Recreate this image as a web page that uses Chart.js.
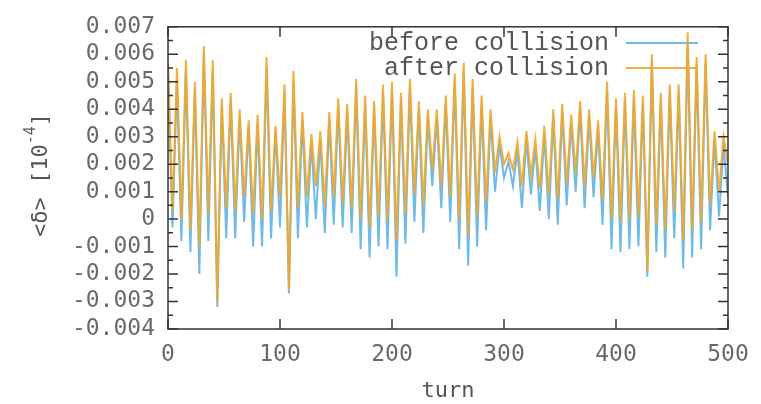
<!DOCTYPE html>
<html>
<head>
<meta charset="utf-8">
<script src="https://cdn.jsdelivr.net/npm/chart.js@4.4.1/dist/chart.umd.min.js"></script>
<style>
  html, body { margin: 0; padding: 0; background: #fff; }
  #chart { display: block; }
</style>
</head>
<body>
<canvas id="chart" width="761" height="404"></canvas>
<script>
// turn numbers (x values)
const turns = [
  0, 4, 8, 12, 16, 20, 24, 28, 32, 36, 40, 44, 48, 52, 56, 60, 64, 68, 72, 76,
  80, 84, 88, 92, 96, 100, 104, 108, 112, 116, 120, 124, 128, 132, 136, 140, 144, 148, 152, 156,
  160, 164, 168, 172, 176, 180, 184, 188, 192, 196, 200, 204, 208, 212, 216, 220, 224, 228, 232, 236,
  240, 244, 248, 252, 256, 260, 264, 268, 272, 276, 280, 284, 288, 292, 296, 300, 304, 308, 312, 316,
  320, 324, 328, 332, 336, 340, 344, 348, 352, 356, 360, 364, 368, 372, 376, 380, 384, 388, 392, 396,
  400, 404, 408, 412, 416, 420, 424, 428, 432, 436, 440, 444, 448, 452, 456, 460, 464, 468, 472, 476,
  480, 484, 488, 492, 496, 500
];

// <delta> after collision
const afterCollision = [
  0.0057, 0.0003, 0.0055, 0.0000, 0.0058, -0.0004, 0.0050, -0.0010, 0.0063, 0.0002,
  0.0058, -0.0030, 0.0044, 0.0004, 0.0046, 0.0003, 0.0040, 0.0008, 0.0036, 0.0002,
  0.0038, 0.0000, 0.0059, 0.0003, 0.0034, 0.0008, 0.0049, -0.0026, 0.0054, 0.0004,
  0.0039, 0.0008, 0.0031, 0.0012, 0.0032, 0.0005, 0.0039, 0.0008, 0.0044, 0.0006,
  0.0042, 0.0004, 0.0051, 0.0000, 0.0045, -0.0003, 0.0043, 0.0001, 0.0049, 0.0000,
  0.0050, -0.0008, 0.0046, 0.0002, 0.0051, 0.0009, 0.0043, 0.0005, 0.0040, 0.0018,
  0.0040, 0.0012, 0.0045, 0.0008, 0.0053, 0.0000, 0.0057, -0.0006, 0.0051, 0.0001,
  0.0045, 0.0006, 0.0040, 0.0017, 0.0030, 0.0020, 0.0024, 0.0018, 0.0028, 0.0012,
  0.0032, 0.0016, 0.0029, 0.0011, 0.0034, 0.0009, 0.0040, 0.0007, 0.0042, 0.0013,
  0.0038, 0.0017, 0.0043, 0.0012, 0.0040, 0.0015, 0.0036, 0.0007, 0.0050, 0.0000,
  0.0044, -0.0001, 0.0046, 0.0000, 0.0047, 0.0001, 0.0045, -0.0019, 0.0060, -0.0002,
  0.0046, -0.0004, 0.0049, 0.0003, 0.0049, -0.0008, 0.0068, -0.0004, 0.0059, -0.0001,
  0.0060, 0.0005, 0.0032, 0.0010, 0.0030, 0.0020
];

// <delta> before collision
const beforeCollision = [
  0.0053, -0.0003, 0.0050, -0.0008, 0.0054, -0.0012, 0.0047, -0.0020, 0.0060, -0.0008,
  0.0054, -0.0032, 0.0041, -0.0007, 0.0043, -0.0007, 0.0037, -0.0001, 0.0034, -0.0010,
  0.0035, -0.0010, 0.0055, -0.0007, 0.0032, -0.0003, 0.0046, -0.0027, 0.0050, -0.0007,
  0.0036, -0.0003, 0.0028, 0.0000, 0.0029, -0.0005, 0.0036, -0.0002, 0.0041, -0.0003,
  0.0039, -0.0005, 0.0048, -0.0011, 0.0042, -0.0014, 0.0040, -0.0010, 0.0046, -0.0011,
  0.0047, -0.0021, 0.0043, -0.0009, 0.0048, -0.0001, 0.0040, -0.0005, 0.0037, 0.0012,
  0.0037, 0.0004, 0.0042, -0.0001, 0.0050, -0.0011, 0.0054, -0.0017, 0.0048, -0.0010,
  0.0042, -0.0004, 0.0037, 0.0010, 0.0027, 0.0015, 0.0021, 0.0012, 0.0025, 0.0004,
  0.0029, 0.0009, 0.0026, 0.0003, 0.0031, 0.0000, 0.0037, -0.0002, 0.0039, 0.0005,
  0.0035, 0.0010, 0.0040, 0.0004, 0.0037, 0.0008, 0.0033, -0.0002, 0.0047, -0.0011,
  0.0041, -0.0012, 0.0043, -0.0011, 0.0044, -0.0010, 0.0042, -0.0021, 0.0057, -0.0012,
  0.0043, -0.0014, 0.0046, -0.0007, 0.0046, -0.0018, 0.0064, -0.0014, 0.0056, -0.0011,
  0.0057, -0.0004, 0.0029, 0.0001, 0.0027, 0.0008
];

const seriesNames = ['before collision', 'after collision'];
const xTicks = [0, 100, 200, 300, 400, 500];
const yMin = -0.004, yMax = 0.007, yStep = 0.001;

const blue = 'rgb(110, 186, 232)';
const orange = 'rgba(240, 168, 45, 0.92)';
const labelFont = 'DejaVu Sans Mono';

// box border with inward ticks (gnuplot look)
const frame = {
  id: 'frame',
  afterDraw(chart) {
    const { ctx, chartArea: a, scales } = chart;
    ctx.save();
    ctx.strokeStyle = '#333';
    ctx.lineWidth = 1.5;
    ctx.strokeRect(a.left, a.top, a.right - a.left, a.bottom - a.top);
    ctx.beginPath();
    xTicks.forEach(v => {
      const x = scales.x.getPixelForValue(v);
      ctx.moveTo(x, a.bottom); ctx.lineTo(x, a.bottom - 10);
      ctx.moveTo(x, a.top); ctx.lineTo(x, a.top + 10);
    });
    scales.y.ticks.forEach(t => {
      const y = scales.y.getPixelForValue(t.value);
      ctx.moveTo(a.left, y); ctx.lineTo(a.left + 10, y);
      ctx.moveTo(a.right, y); ctx.lineTo(a.right - 10, y);
      const ym = scales.y.getPixelForValue(t.value + yStep / 2);
      if (ym > a.top) {
        ctx.moveTo(a.left, ym); ctx.lineTo(a.left + 5, ym);
        ctx.moveTo(a.right, ym); ctx.lineTo(a.right - 5, ym);
      }
    });
    ctx.stroke();

    // y axis label: <δ> [10^-4]
    ctx.translate(41, 175);
    ctx.rotate(-Math.PI / 2);
    ctx.fillStyle = '#555';
    ctx.textBaseline = 'middle';
    ctx.textAlign = 'left';
    const big = '22px "' + labelFont + '"';
    const small = '15px "' + labelFont + '"';
    ctx.font = big;
    const p1 = '<δ> [10';
    const w1 = ctx.measureText(p1).width;
    ctx.font = small;
    const w2 = ctx.measureText('-4').width;
    ctx.font = big;
    const w3 = ctx.measureText(']').width;
    const x0 = -(w1 + w2 + w3) / 2;
    ctx.fillText(p1, x0, 0);
    ctx.font = small;
    ctx.fillText('-4', x0 + w1, -10);
    ctx.font = big;
    ctx.fillText(']', x0 + w1 + w2, 0);
    ctx.restore();
  }
};

// key in the top right, text right aligned with line sample after it
const key = {
  id: 'key',
  beforeDatasetsDraw(chart) {
    const { ctx } = chart;
    const cols = [blue, orange];
    ctx.save();
    ctx.font = '25px "Liberation Mono"';
    ctx.textAlign = 'right';
    ctx.textBaseline = 'middle';
    seriesNames.forEach((name, i) => {
      const y = 43 + i * 25;
      ctx.fillStyle = '#555';
      ctx.fillText(name, 609, y);
      ctx.strokeStyle = cols[i];
      ctx.lineWidth = 2;
      ctx.beginPath();
      ctx.moveTo(626, y);
      ctx.lineTo(698, y);
      ctx.stroke();
    });
    ctx.restore();
  }
};

new Chart(document.getElementById('chart'), {
  type: 'line',
  data: {
    datasets: [
      {
        label: seriesNames[1],
        data: turns.map((t, i) => ({ x: t, y: afterCollision[i] })),
        borderColor: orange,
        borderWidth: 2,
        pointRadius: 0,
        tension: 0
      },
      {
        label: seriesNames[0],
        data: turns.map((t, i) => ({ x: t, y: beforeCollision[i] })),
        borderColor: blue,
        borderWidth: 2,
        pointRadius: 0,
        tension: 0
      }
    ]
  },
  options: {
    responsive: false,
    animation: false,
    devicePixelRatio: 1,
    layout: { padding: { top: 17, right: 33, left: 0, bottom: 0 } },
    plugins: {
      legend: { display: false },
      tooltip: { enabled: false }
    },
    scales: {
      x: {
        type: 'linear',
        min: 0,
        max: 500,
        grid: { display: false, drawTicks: false },
        border: { display: false },
        afterFit: s => { s.height = 75; },
        afterBuildTicks: s => { s.ticks = xTicks.map(v => ({ value: v })); },
        ticks: {
          padding: 12,
          maxRotation: 0,
          autoSkip: false,
          color: '#6a6a6a',
          font: { family: labelFont, size: 23 }
        },
        title: {
          display: true,
          text: 'turn',
          color: '#555',
          padding: { top: 0, bottom: 0 },
          font: { family: labelFont, size: 22 }
        }
      },
      y: {
        min: yMin,
        max: yMax,
        grid: { display: false, drawTicks: false },
        border: { display: false },
        afterFit: s => { s.width = 168; },
        ticks: {
          stepSize: yStep,
          autoSkip: false,
          padding: 13,
          color: '#6a6a6a',
          font: { family: labelFont, size: 23 },
          callback: v => Math.abs(v) < 1e-9 ? '0' : v.toFixed(3)
        }
      }
    }
  },
  plugins: [frame, key]
});
</script>
</body>
</html>
